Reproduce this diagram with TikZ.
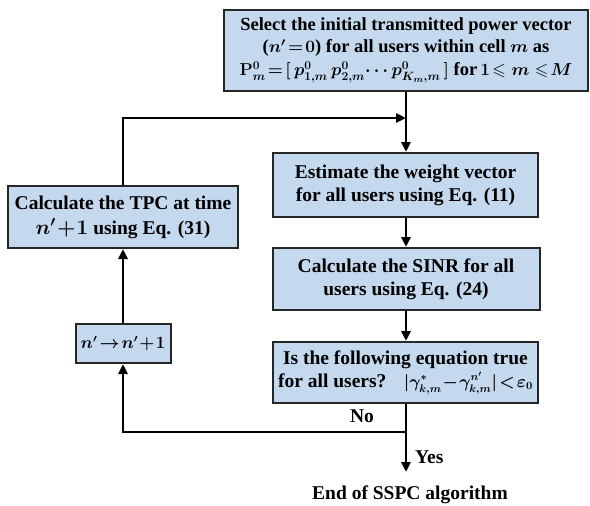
\documentclass[tikz,border=0pt]{standalone}
\usepackage{amsmath,amssymb}
\usepackage{fontspec}
\setmainfont{Liberation Serif}
\usetikzlibrary{arrows.meta}
\definecolor{boxblue}{RGB}{196,216,238}
\begin{document}
\begin{tikzpicture}[x=1pt,y=-1pt,
  box/.style={draw=black!85, line width=2pt, fill=boxblue, align=center, inner sep=0pt,
    font=\fontsize{19.5}{23}\selectfont\bfseries\boldmath},
  flow/.style={line width=2.6pt, -{Triangle[length=10pt,width=9pt]}},
  plain/.style={line width=2.6pt},
  lbl/.style={font=\fontsize{19.5}{23}\selectfont\bfseries, inner sep=0pt}]
\useasboundingbox (0,0) rectangle (590,506);
\node[box, minimum width=364pt, minimum height=81pt,
      font=\fontsize{18.5}{22}\selectfont\bfseries\boldmath] (top) at (406,50.5)
  {Select the initial transmitted power vector\\
   ($n'\!=\!0$) for all users within cell $m$ as\\[1pt]
   {\fontsize{17.5}{22}\selectfont$\mathbf{P}^0_m\!=\![\,p^0_{1,m}\,p^0_{2,m}{\cdots}\,p^0_{K_m,m}\,]$} for\,{\fontsize{17.5}{22}\selectfont$1\!\leqslant m\leqslant\! M$}};
\node[box, minimum width=265pt, minimum height=64pt] (est) at (405.5,185)
  {Estimate the weight vector\\ for all users using Eq. (11)};
\node[box, minimum width=267pt, minimum height=62pt] (sinr) at (406,279)
  {Calculate the SINR for all\\ users using Eq. (24)};
\node[box, minimum width=265pt, minimum height=61pt] (dec) at (405.5,372.5)
  {Is the following equation true\\ for all users?\;\; {\fontsize{16}{19}\selectfont$|\gamma^{*}_{k,m}\!-\!\gamma^{n'}_{k,m}|\!<\!\varepsilon_0$}};
\node[box, minimum width=230pt, minimum height=62pt] (tpc) at (123,217)
  {Calculate the TPC at time\\[2pt] $n'\!+\!1$ using Eq. (31)};
\node[box, minimum width=95pt, minimum height=39pt] (inc) at (123,343.5)
  {{\fontsize{16}{20}\selectfont$n'\!\rightarrow\! n'\!+\!1$}};
\coordinate (join) at (406,118);
\coordinate (nojoin) at (406,432);
\coordinate (endtip) at (406,472);
\node[lbl] (end) at (410,495) {End of SSPC algorithm};
\node[lbl] (no) at (362,416) {No};
\node[lbl, anchor=west] (yes) at (415,457) {Yes};
\draw[flow] (top.south -| join) -- (est.north -| join);
\draw[flow] (est.south -| join) -- (sinr.north -| join);
\draw[flow] (sinr.south -| join) -- (dec.north -| join);
\draw[flow] (tpc.north) |- (join);
\draw[plain] (dec.south -| nojoin) -- (nojoin);
\draw[flow] (nojoin) -- (endtip);
\draw[flow] (nojoin) -| (inc.south);
\draw[flow] (inc.north) -- (tpc.south);
\end{tikzpicture}
\end{document}
